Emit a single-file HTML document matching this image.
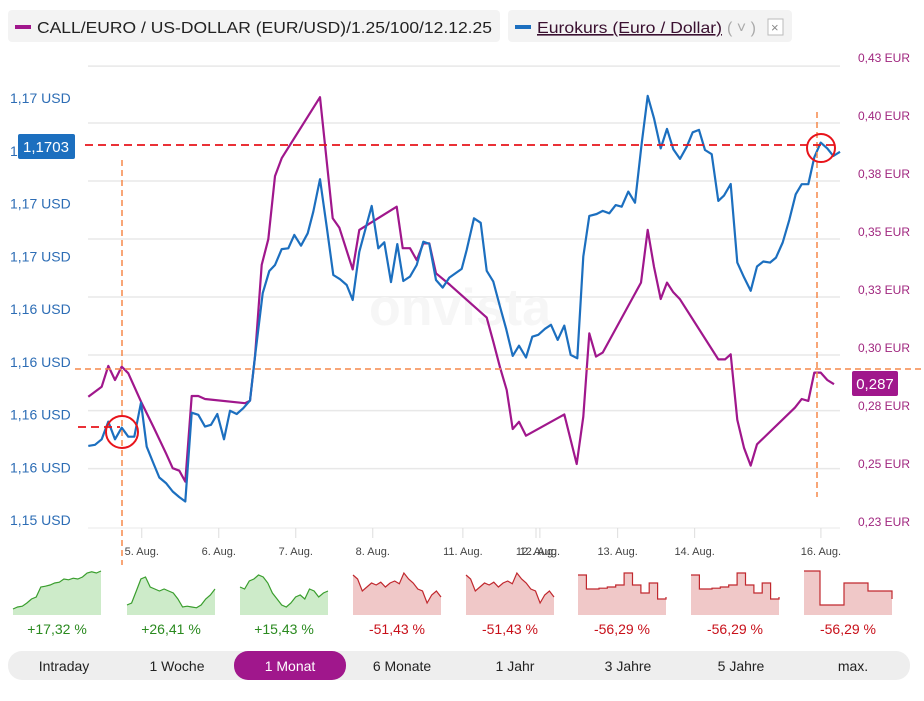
<!DOCTYPE html>
<html><head><meta charset="utf-8">
<style>
body{margin:0;background:#fff;font-family:"Liberation Sans",sans-serif;}
#wrap{position:relative;width:924px;height:701px;overflow:hidden;}
svg text{font-family:"Liberation Sans",sans-serif;}
</style></head>
<body><div id="wrap">
<svg id="svg" width="924" height="701" viewBox="0 0 924 701"></svg>
</div>
<script>
// ---- main chart data ----
const blueT=[-0.684,-0.597,-0.510,-0.425,-0.338,-0.251,-0.165,-0.087,0,0.074,0.160,0.238,0.325,0.412,0.497,0.575,0.658,0.744,0.831,0.909,0.991,1.078,1.156,1.243,1.329,1.416,1.481,1.581,1.666,1.740,1.827,1.913,1.991,2.078,2.165,2.238,2.325,2.412,2.497,2.584,2.671,2.749,2.835,2.996,3.082,3.160,3.247,3.329,3.406,3.494,3.581,3.666,3.744,3.831,3.918,4.004,4.165,4.230,4.325,4.412,4.490,4.575,4.662,4.740,4.827,4.909,5.000,5.082,5.160,5.247,5.325,5.412,5.497,5.581,5.666,5.744,5.822,5.918,5.996,6.082,6.165,6.243,6.329,6.416,6.503,6.581,6.662,6.749,6.831,6.913,7.000,7.087,7.165,7.247,7.325,7.412,7.497,7.571,7.658,7.744,7.831,7.918,8.000,8.082,8.169,8.247,8.334,8.419,8.503,8.581,8.666,8.744,8.827,8.913,8.991,9.078];
const blueV=[1.15881,1.15885,1.15906,1.15973,1.15906,1.15950,1.15916,1.15916,1.16045,1.15878,1.15816,1.15761,1.15740,1.15708,1.15687,1.15670,1.16007,1.15999,1.15954,1.15961,1.16002,1.15906,1.16014,1.16002,1.16024,1.16053,1.16220,1.16460,1.16544,1.16567,1.16627,1.16630,1.16681,1.16640,1.16687,1.16769,1.16892,1.16712,1.16529,1.16513,1.16491,1.16434,1.16617,1.16791,1.16630,1.16653,1.16502,1.16646,1.16506,1.16523,1.16567,1.16655,1.16647,1.16510,1.16481,1.16519,1.16552,1.16624,1.16744,1.16727,1.16545,1.16504,1.16409,1.16327,1.16222,1.16261,1.16216,1.16295,1.16302,1.16325,1.16340,1.16283,1.16337,1.16226,1.16213,1.16599,1.16753,1.16760,1.16772,1.16763,1.16794,1.16788,1.16845,1.16803,1.17028,1.17208,1.17123,1.17009,1.17083,1.17006,1.16969,1.17015,1.17070,1.17079,1.17003,1.16987,1.16810,1.16830,1.16874,1.16576,1.16520,1.16469,1.16561,1.16580,1.16576,1.16595,1.16652,1.16738,1.16835,1.16873,1.16873,1.16975,1.17031,1.17009,1.16980,1.16996];
const purpleT=[-0.684,-0.510,-0.425,-0.338,-0.251,-0.165,0,0.160,0.325,0.412,0.497,0.575,0.658,0.744,0.831,1.351,1.416,1.481,1.568,1.653,1.740,1.827,2.325,2.490,2.575,2.749,2.835,3.321,3.399,3.494,3.581,3.666,3.744,3.831,4.013,4.490,4.575,4.662,4.749,4.827,4.909,5.000,5.497,5.658,5.744,5.822,5.909,5.996,6.494,6.581,6.662,6.749,6.831,6.913,7.000,7.497,7.584,7.658,7.744,7.831,7.918,8.000,8.494,8.581,8.666,8.744,8.827,8.913,9.000];
const purpleV=[0.2790,0.2833,0.2923,0.2862,0.2920,0.2891,0.2769,0.2661,0.2546,0.2482,0.2471,0.2424,0.2793,0.2793,0.2780,0.2762,0.2773,0.2963,0.3358,0.3469,0.3741,0.3818,0.4081,0.3559,0.3519,0.3339,0.3509,0.3609,0.3430,0.3430,0.3379,0.3451,0.3451,0.3322,0.3272,0.3131,0.3027,0.2917,0.2819,0.2651,0.2682,0.2622,0.2714,0.2500,0.2704,0.3063,0.2963,0.2980,0.3282,0.3509,0.3350,0.3211,0.3282,0.3240,0.3210,0.2951,0.2951,0.2973,0.2690,0.2570,0.2493,0.2585,0.2743,0.2780,0.2772,0.2894,0.2894,0.2862,0.2844];
const leftTickVals=[1.172,1.170,1.168,1.166,1.164,1.162,1.160,1.158,1.156];
const leftTickLabels=["1,17 USD","1,17 USD","1,17 USD","1,17 USD","1,16 USD","1,16 USD","1,16 USD","1,16 USD","1,15 USD"];
const rightTickVals=[0.425,0.40,0.375,0.35,0.325,0.30,0.275,0.25,0.225];
const rightTickLabels=["0,43 EUR","0,40 EUR","0,38 EUR","0,35 EUR","0,33 EUR","0,30 EUR","0,28 EUR","0,25 EUR","0,23 EUR"];
const xTickT=[0.01,1.01,2.01,3.01,4.18,5.13,5.18,6.19,7.19,8.83];
const xTickLabels=["5. Aug.","6. Aug.","7. Aug.","8. Aug.","11. Aug.","12. Aug.","12. Aug.","13. Aug.","14. Aug.","16. Aug."];
const gridVals=[0.4215,0.397,0.372,0.347,0.322,0.297,0.273,0.248];
// ---- sparklines ----
const sparkLabels=["+17,32 %","+26,41 %","+15,43 %","-51,43 %","-51,43 %","-56,29 %","-56,29 %","-56,29 %"];
const spark1=[0.05,0.1,0.12,0.2,0.3,0.35,0.6,0.62,0.65,0.7,0.72,0.8,0.78,0.82,0.8,0.85,0.95,0.98,0.95,1.0];
const spark2=[0.15,0.2,0.5,0.8,0.85,0.6,0.55,0.5,0.55,0.5,0.45,0.3,0.1,0.12,0.1,0.08,0.15,0.3,0.4,0.55];
const spark3=[0.6,0.55,0.75,0.8,0.9,0.85,0.7,0.45,0.3,0.15,0.1,0.2,0.35,0.4,0.3,0.55,0.5,0.35,0.45,0.5];
const spark4=[0.9,0.8,0.5,0.6,0.7,0.65,0.72,0.6,0.7,0.75,0.68,0.95,0.8,0.7,0.55,0.5,0.2,0.4,0.5,0.35];
const spark5=[0.9,0.8,0.5,0.6,0.7,0.65,0.72,0.6,0.7,0.75,0.68,0.95,0.8,0.7,0.55,0.5,0.2,0.4,0.5,0.35];
const spark6=[0.9,0.9,0.55,0.55,0.55,0.57,0.57,0.6,0.6,0.65,0.65,0.95,0.95,0.65,0.65,0.45,0.45,0.7,0.7,0.3,0.3,0.35];
const spark7=[0.9,0.9,0.55,0.55,0.55,0.57,0.57,0.6,0.6,0.65,0.65,0.95,0.95,0.65,0.65,0.45,0.45,0.7,0.7,0.3,0.3,0.35];
const spark8=[1,1,0.15,0.15,0.15,0.7,0.7,0.7,0.5,0.5,0.5,0.3];
const rangeLabels=["Intraday","1 Woche","1 Monat","6 Monate","1 Jahr","3 Jahre","5 Jahre","max."];

const NS="http://www.w3.org/2000/svg";
const svg=document.getElementById('svg');
function mk(tag,attrs,parent){const e=document.createElementNS(NS,tag);for(const k in attrs)e.setAttribute(k,attrs[k]);(parent||svg).appendChild(e);return e;}
const xS=t=>141+77*t;
const yL=v=>98+(1.172-v)/0.002*52.75;
const yR=v=>58+(0.425-v)/0.025*58;

// legend
let g=mk('g',{});

mk('rect',{x:8,y:10,width:492,height:32,rx:4,fill:'#f3f3f3'},g);
mk('rect',{x:15,y:25,width:16,height:4,fill:'#a0178c'},g);
let t=mk('text',{x:37,y:33,'font-size':16,fill:'#222',textLength:455,lengthAdjust:'spacingAndGlyphs'},g);t.textContent="CALL/EURO / US-DOLLAR (EUR/USD)/1.25/100/12.12.25";
g=mk('g',{});

mk('rect',{x:508,y:10,width:284,height:32,rx:4,fill:'#f3f3f3'},g);
mk('rect',{x:515,y:25,width:16,height:4,fill:'#1c6fbf'},g);
t=mk('text',{x:537,y:33,'font-size':16,fill:'#3a1030','text-decoration':'underline',textLength:185,lengthAdjust:'spacingAndGlyphs'},g);t.textContent="Eurokurs (Euro / Dollar)";
t=mk('text',{x:727,y:33,'font-size':16,fill:'#aaa'},g);t.textContent="( ˅ )";
mk('rect',{x:768,y:19,width:15,height:16,fill:'#fff',stroke:'#bbb'},g);
t=mk('text',{x:771,y:32,'font-size':13,fill:'#888'},g);t.textContent="×";

// grid
gridVals.forEach(v=>{const l=mk('line',{x1:88,x2:840,y1:yR(v),y2:yR(v),stroke:'#e8e8e8','stroke-width':1.5});
});
// watermark
t=mk('text',{x:460,y:325,'font-size':52,'font-weight':'bold',fill:'#f6f6f6','text-anchor':'middle'});t.textContent="onvista";


// axes labels
leftTickVals.forEach((v,i)=>{const e=mk('text',{x:10,y:yL(v)+5,'font-size':14,fill:'#2d6db5'});e.textContent=leftTickLabels[i];
});
rightTickVals.forEach((v,i)=>{const e=mk('text',{x:910,y:yR(v)+4,'font-size':12,fill:'#a0267f','text-anchor':'end'});e.textContent=rightTickLabels[i];
});
mk('line',{x1:88,x2:840,y1:528,y2:528,stroke:'#e8e8e8'});
xTickT.forEach((tv,i)=>{const x=xS(tv);mk('line',{x1:x,x2:x,y1:528,y2:538,stroke:'#ddd'});
const e=mk('text',{x:x,y:555,'font-size':11,fill:'#444','text-anchor':'middle'});e.textContent=xTickLabels[i];
});

// series
function line(T,V,ys,col,name){const d=T.map((tv,i)=>(i?'L':'M')+xS(tv).toFixed(1)+','+ys(V[i]).toFixed(1)).join('');
const p=mk('path',{d:d,fill:'none',stroke:col,'stroke-width':2.2,'stroke-linejoin':'round'});
}
line(purpleT,purpleV,yR,'#a0178c','call-series-line');
line(blueT,blueV,yL,'#1c6fbf','eurokurs-series-line');

// crosshairs
mk('line',{x1:122,x2:122,y1:160,y2:565,stroke:'#f5894a','stroke-width':1.5,'stroke-dasharray':'6,4'});
mk('line',{x1:817,x2:817,y1:112,y2:497,stroke:'#f5894a','stroke-width':1.5,'stroke-dasharray':'6,4'});
mk('line',{x1:75,x2:924,y1:369,y2:369,stroke:'#f5894a','stroke-width':1.5,'stroke-dasharray':'6,4'});
mk('line',{x1:85,x2:835,y1:145,y2:145,stroke:'#e8141b','stroke-width':1.8,'stroke-dasharray':'8,5'});
mk('line',{x1:78,x2:120,y1:427,y2:427,stroke:'#e8141b','stroke-width':1.8,'stroke-dasharray':'8,5'});
mk('circle',{cx:122,cy:432,r:16,fill:'none',stroke:'#e8141b','stroke-width':2});
mk('circle',{cx:821,cy:148,r:14,fill:'none',stroke:'#e8141b','stroke-width':2});
g=mk('g',{});
mk('rect',{x:18,y:134,width:57,height:25,rx:2,fill:'#1c6fbf'},g);
t=mk('text',{x:46,y:152,'font-size':15,fill:'#fff','text-anchor':'middle'},g);t.textContent="1,1703";
g=mk('g',{});
mk('rect',{x:852,y:371,width:46,height:25,rx:2,fill:'#a0178c'},g);
t=mk('text',{x:875,y:389,'font-size':15,fill:'#fff','text-anchor':'middle'},g);t.textContent="0,287";

// sparklines
const sparks=[spark1,spark2,spark3,spark4,spark5,spark6,spark7,spark8];
const panelX=[13,127,240,353,466,578,691,804];
sparks.forEach((arr,i)=>{const x0=panelX[i],w=88,top=567,h=48,bot=top+h;
const green=i<3;const step=i>=5;
let pts=[];arr.forEach((v,j)=>{const x=x0+w*j/(arr.length-1);const y=bot-4-v*(h-8);
if(step&&j>0){pts.push([x,pts[pts.length-1][1]]);}pts.push([x,y]);});
const d=pts.map((p,j)=>(j?'L':'M')+p[0].toFixed(1)+','+p[1].toFixed(1)).join('');
const gg=mk('g',{});
mk('path',{d:d+'L'+(x0+w)+','+bot+'L'+x0+','+bot+'Z',fill:green?'#cdebc9':'#f0c8c8'},gg);
mk('path',{d:d,fill:'none',stroke:green?'#3a9e2e':'#c0282e','stroke-width':1.2},gg);
const e=mk('text',{x:x0+w/2,y:634,'font-size':14,fill:green?'#2a8a1f':'#c8101a','text-anchor':'middle'},gg);e.textContent=sparkLabels[i];});

// range buttons
g=mk('g',{});
mk('rect',{x:8,y:651,width:902,height:29,rx:14,fill:'#eeeeee'},g);
const cx=[64,177,290,402,515,628,741,853];
rangeLabels.forEach((lb,i)=>{const b=mk('g',{},g);
if(i===2)mk('rect',{x:234,y:651,width:112,height:29,rx:14,fill:'#a0178c'},b);
const e=mk('text',{x:cx[i],y:671,'font-size':14,fill:i===2?'#fff':'#222','text-anchor':'middle'},b);e.textContent=lb;});
</script>
</body></html>
